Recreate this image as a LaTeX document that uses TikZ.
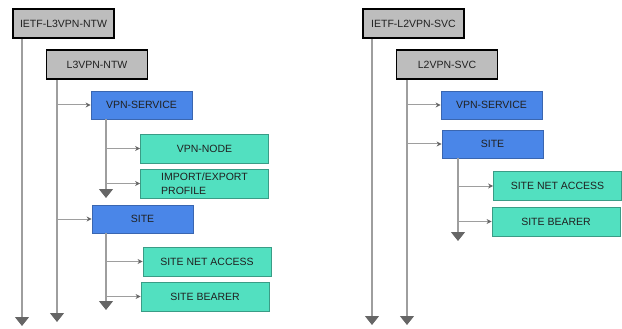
\documentclass[tikz,border=0pt]{standalone}
\usepackage{fontspec}
\setmainfont{Liberation Sans}
\usetikzlibrary{arrows.meta}

\definecolor{boxgray}{HTML}{BDBDBD}
\definecolor{contblue}{HTML}{4A86E8}
\definecolor{blueedge}{HTML}{3A66B0}
\definecolor{leafgreen}{HTML}{52E0C0}
\definecolor{greenedge}{HTML}{3A9C86}
\definecolor{linegray}{HTML}{9E9E9E}
\definecolor{tipgray}{HTML}{666666}
\definecolor{textdark}{HTML}{202020}

\begin{document}
\begin{tikzpicture}[x=1pt, y=-1pt, font=\fontsize{10.5}{13.5}\selectfont,
  module/.style={draw=black, line width=1.6pt, fill=boxgray, text=textdark, minimum width=101pt, minimum height=29pt, inner sep=1pt},
  container/.style={draw=blueedge, line width=0.8pt, fill=contblue, text=textdark, minimum width=101pt, minimum height=28pt, inner sep=1pt},
  leaf/.style={draw=greenedge, line width=0.8pt, fill=leafgreen, text=textdark, minimum width=128pt, minimum height=29pt, inner sep=1pt},
  trunk/.style={draw=linegray, line width=1.2pt, -{Triangle[width=14pt,length=9pt,color=tipgray]}},
  branch/.style={draw=linegray, line width=1pt, -{Stealth[length=5pt,width=5pt,color=tipgray]}}]

\useasboundingbox (0,0) rectangle (622,329);

% L3VPN network model
\node[module] (ietfl3) at (63.5,23.5) {IETF-L3VPN-NTW};
\node[module] (l3ntw) at (97,64.5) {L3VPN-NTW};
\node[container] (svcL) at (141.5,105) {VPN-SERVICE};
\node[leaf] (nodeL) at (204.5,148.5) {VPN-NODE};
\node[leaf, align=left] (impexp) at (204.5,183.5) {IMPORT/EXPORT\\PROFILE};
\node[container] (siteL) at (142.5,219) {SITE};
\node[leaf] (accessL) at (207,261.5) {SITE NET ACCESS};
\node[leaf] (bearerL) at (205,296.5) {SITE BEARER};

\coordinate (endA) at (22,326);
\coordinate (endB) at (57,322);
\coordinate (endC) at (106,198);
\coordinate (endD) at (106,310);

\draw[trunk] (ietfl3.south -| endA) -- (endA);
\draw[trunk] (l3ntw.south -| endB) -- (endB);
\draw[branch] (endB |- svcL.west) -- (svcL.west);
\draw[branch] (endB |- siteL.west) -- (siteL.west);
\draw[trunk] (svcL.south -| endC) -- (endC);
\draw[branch] (endC |- nodeL.west) -- (nodeL.west);
\draw[branch] (endC |- impexp.west) -- (impexp.west);
\draw[trunk] (siteL.south -| endD) -- (endD);
\draw[branch] (endD |- accessL.west) -- (accessL.west);
\draw[branch] (endD |- bearerL.west) -- (bearerL.west);

% L2VPN service model
\node[module] (ietfl2) at (413.5,23.5) {IETF-L2VPN-SVC};
\node[module] (l2svc) at (447,64.5) {L2VPN-SVC};
\node[container] (svcR) at (491.5,105) {VPN-SERVICE};
\node[container] (siteR) at (492.5,144) {SITE};
\node[leaf] (accessR) at (557.5,186) {SITE NET ACCESS};
\node[leaf] (bearerR) at (556,221.5) {SITE BEARER};

\coordinate (endE) at (372,325);
\coordinate (endF) at (407,325);
\coordinate (endG) at (458,241);

\draw[trunk] (ietfl2.south -| endE) -- (endE);
\draw[trunk] (l2svc.south -| endF) -- (endF);
\draw[branch] (endF |- svcR.west) -- (svcR.west);
\draw[branch] (endF |- siteR.west) -- (siteR.west);
\draw[trunk] (siteR.south -| endG) -- (endG);
\draw[branch] (endG |- accessR.west) -- (accessR.west);
\draw[branch] (endG |- bearerR.west) -- (bearerR.west);
\end{tikzpicture}
\end{document}
